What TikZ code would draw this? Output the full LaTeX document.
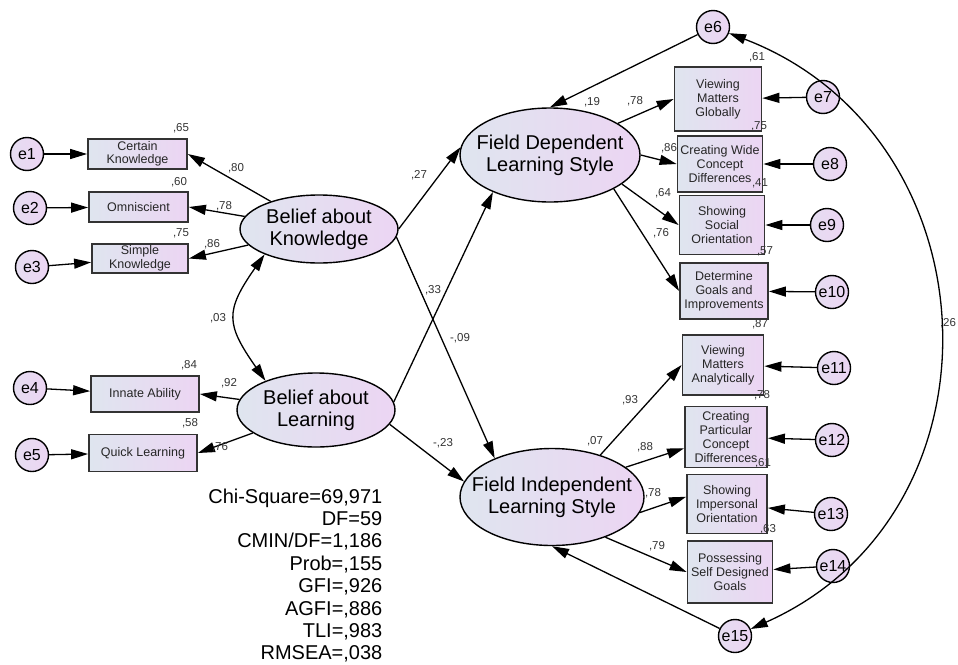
\documentclass[tikz,border=0pt]{standalone}
\usepackage{fontspec}
\setmainfont{Liberation Sans}
\usepackage{xcolor}
\usepackage{tikz}
\usetikzlibrary{shapes.geometric,arrows.meta}
\definecolor{shadeL}{RGB}{223,229,239}
\definecolor{shadeR}{RGB}{236,213,243}

\begin{document}
\begin{tikzpicture}[x=1pt,y=-1pt,line width=1.3pt,
    >={Triangle[length=17pt,width=10pt]},
    latent/.style={ellipse,draw,line width=1.4pt,left color=shadeL,right color=shadeR,
      inner xsep=-60pt,inner ysep=-16pt,align=center,font=\fontsize{20}{22}\selectfont},
    obs/.style={rectangle,draw=black!80,line width=1.8pt,left color=shadeL,right color=shadeR,
      inner sep=0pt,align=center,text=black!85,font=\fontsize{12.5}{13.5}\selectfont},
    obsr/.style={obs,font=\fontsize{12.5}{14}\selectfont},
    err/.style={circle,draw,line width=1.4pt,left color=shadeL!50!shadeR,right color=shadeR,
      minimum size=33pt,inner sep=0pt,font=\fontsize{16}{16}\selectfont},
    coef/.style={inner sep=0pt,text=black!80,font=\fontsize{11.5}{12}\selectfont}
  ]
    \useasboundingbox (0,0) rectangle (958,664);

    \node[latent,minimum width=158pt,minimum height=68pt] (bk) at (319,229) {Belief about\\Knowledge};
    \node[latent,minimum width=158pt,minimum height=74pt] (bl) at (316,410) {Belief about\\Learning};
    \node[latent,minimum width=180pt,minimum height=94pt] (fd) at (550,155) {Field Dependent\\Learning Style};
    \node[latent,minimum width=184pt,minimum height=97pt] (fi) at (552,497) {Field Independent\\Learning Style};

    \node[obs,minimum width=99pt,minimum height=30pt] (ck) at (137.5,154) {Certain\\Knowledge};
    \node[obs,minimum width=99pt,minimum height=30pt] (om) at (138.5,207) {Omniscient};
    \node[obs,minimum width=96pt,minimum height=29pt] (sk) at (140,258.5) {Simple\\Knowledge};
    \node[obs,minimum width=108pt,minimum height=36pt] (ia) at (145,394) {Innate Ability};
    \node[obs,minimum width=108pt,minimum height=37pt] (ql) at (143,453) {Quick Learning};

    \node[obsr,minimum width=87pt,minimum height=64pt] (vmg) at (718,99) {Viewing\\Matters\\Globally};
    \node[obsr,minimum width=85pt,minimum height=56pt] (cw) at (720,164) {Creating Wide\\Concept\\Differences};
    \node[obsr,minimum width=85pt,minimum height=59pt] (sso) at (722,225) {Showing\\Social\\Orientation};
    \node[obsr,minimum width=88pt,minimum height=56pt] (dgi) at (724,291) {Determine\\Goals and\\Improvements};
    \node[obsr,minimum width=81pt,minimum height=60pt] (vma) at (723,365) {Viewing\\Matters\\Analytically};
    \node[obsr,minimum width=82pt,minimum height=61pt] (cp) at (726,437) {Creating\\Particular\\Concept\\Differences};
    \node[obsr,minimum width=80pt,minimum height=59pt] (sio) at (727,504) {Showing\\Impersonal\\Orientation};
    \node[obsr,minimum width=85pt,minimum height=62pt] (psdg) at (730,572) {Possessing\\Self Designed\\Goals};

    \node[err] (e1) at (27,154) {e1};
    \node[err] (e2) at (30,208) {e2};
    \node[err] (e3) at (32,267) {e3};
    \node[err] (e4) at (30,388) {e4};
    \node[err] (e5) at (32,455) {e5};
    \node[err] (e6) at (713,27) {e6};
    \node[err] (e7) at (823,97) {e7};
    \node[err] (e8) at (830,164) {e8};
    \node[err] (e9) at (827,225) {e9};
    \node[err] (e10) at (832,292) {e10};
    \node[err] (e11) at (834,368) {e11};
    \node[err] (e12) at (832,440) {e12};
    \node[err] (e13) at (831,514) {e13};
    \node[err] (e14) at (833,566) {e14};
    \node[err] (e15) at (735,636) {e15};

    \draw[->] (e1) -- (ck);
    \draw[->] (e2) -- (om);
    \draw[->] (e3) -- (sk);
    \draw[->] (e4) -- (ia);
    \draw[->] (e5) -- (ql);
    \draw[->] (bk) -- (ck.east);
    \draw[->] (bk) -- (om.east);
    \draw[->] (bk) -- (sk.east);
    \draw[->] (bl) -- (ia.east);
    \draw[->] (bl) -- (ql.east);
    \draw[<->] (bk.205) to[out=235,in=125,looseness=1.4] (bl.150);

    \draw[->] (bk.east) -- (fd.175);
    \draw[->] (bk.-6) -- (fi.146);
    \draw[->] (bl.6) -- (fd.213);
    \draw[->] (bl.-11) -- (fi.170);
    \draw[->] (e6) -- (fd.north);
    \draw[->] (e15) -- (fi.south);
    \draw[<->] (e6) to[out=-21,in=24,looseness=1.23] (e15);

    \draw[->] (fd.25) -- (vmg.west);
    \draw[->] (fd.east) -- (cw.west);
    \draw[->] (fd.-22) -- (sso.west);
    \draw[->] (fd.-28) -- (dgi.west);
    \draw[->] (fi.41) -- (vma.west);
    \draw[->] (fi.22) -- (cp.195);
    \draw[->] (fi.-10) -- (sio.170);
    \draw[->] (fi.-37) -- (psdg.west);

    \draw[->] (e7) -- (vmg);
    \draw[->] (e8) -- (cw);
    \draw[->] (e9) -- (sso);
    \draw[->] (e10) -- (dgi);
    \draw[->] (e11) -- (vma);
    \draw[->] (e12) -- (cp);
    \draw[->] (e13) -- (sio);
    \draw[->] (e14) -- (psdg);

    \node[coef] (rck) at (181,128) {,65};
    \node[coef] (rom) at (179,182) {,60};
    \node[coef] (rsk) at (181,233) {,75};
    \node[coef] (ria) at (189,365) {,84};
    \node[coef] (rql) at (190,423) {,58};
    \node[coef] (wck) at (236,168) {,80};
    \node[coef] (wom) at (224,206) {,78};
    \node[coef] (wsk) at (212,244) {,86};
    \node[coef] (wia) at (229,383) {,92};
    \node[coef] (wql) at (220,447) {,76};
    \node[coef] (ckl) at (218,318) {,03};
    \node[coef] (wkd) at (419,175) {,27};
    \node[coef] (wld) at (433,290) {,33};
    \node[coef] (wki) at (460,338) {-,09};
    \node[coef] (wli) at (443,443) {-,23};
    \node[coef] (rfd) at (592,102) {,19};
    \node[coef] (rfi) at (595,441) {,07};
    \node[coef] (c626) at (948,323) {,26};

    \node[coef] (wvmg) at (635,101) {,78};
    \node[coef] (wcw) at (669,148) {,86};
    \node[coef] (wsso) at (663,193) {,64};
    \node[coef] (wdgi) at (661,233) {,76};
    \node[coef] (wvma) at (630,400) {,93};
    \node[coef] (wcp) at (645,447) {,88};
    \node[coef] (wsio) at (653,493) {,78};
    \node[coef] (wpsdg) at (657,546) {,79};

    \node[coef] (rvmg) at (757,57) {,61};
    \node[coef] (rcw) at (759,126) {,75};
    \node[coef] (rsso) at (760,183) {,41};
    \node[coef] (rdgi) at (765,251) {,57};
    \node[coef] (rvma) at (760,324) {,87};
    \node[coef] (rcp) at (762,395) {,78};
    \node[coef] (rsio) at (763,463) {,61};
    \node[coef] (rpsdg) at (768,529) {,63};

    \node[anchor=north east,align=right,inner sep=0pt,font=\fontsize{20}{22.4}\selectfont] (fit) at (383,488)
      {Chi-Square=69,971\\DF=59\\CMIN/DF=1,186\\Prob=,155\\GFI=,926\\AGFI=,886\\TLI=,983\\RMSEA=,038};
\end{tikzpicture}
\end{document}
